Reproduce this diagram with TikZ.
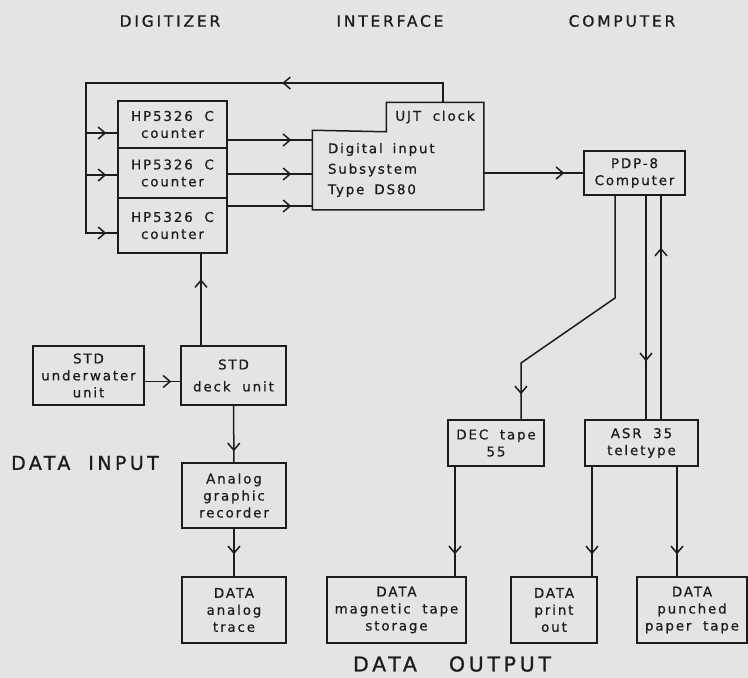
\documentclass[tikz,border=0pt]{standalone}
\usepackage{fontspec}
\setmainfont{DejaVu Sans}
\newfontfamily\letterfont[LetterSpace=14, FakeBold=0.6, WordSpace=1.9]{DejaVu Sans}
\newfontfamily\titlefont[LetterSpace=18, FakeBold=0.8, WordSpace=1.9]{DejaVu Sans}
\usetikzlibrary{arrows.meta, decorations.markings, positioning, calc}
\definecolor{paper}{RGB}{228,228,226}
\definecolor{ink}{RGB}{28,28,28}
\newcommand\boxfont[1][17]{\letterfont\fontsize{13.4}{#1}\selectfont}
\newcommand\labelfont[1][19]{\titlefont\fontsize{#1}{20}\selectfont}

\begin{document}
\begin{tikzpicture}[
    x=1pt, y=-1pt,
    >={Straight Barb[length=7pt, width=12pt]},
    line width=1.5pt, color=ink,
    box/.style={draw, rectangle, inner sep=0pt, align=center, font=\boxfont},
    title/.style={font=\titlefont\fontsize{15.5}{18}\selectfont},
    biglabel/.style={font=\labelfont},
    midarrow/.style={postaction={decorate, decoration={markings,
        mark=at position #1 with {\arrow{>}}}}}
  ]
  \path[use as bounding box, fill=paper] (0,0) rectangle (748,678);

  % column headings
  \node[title] (tdig) at (170,21) {DIGITIZER};
  \node[title] (tint) at (390,21) {INTERFACE};
  \node[title] (tcom) at (622,21) {COMPUTER};

  % counters
  \node[box, minimum width=109pt, minimum height=47pt] (c1) at (172.5,124.5) {HP5326 C\\counter};
  \node[box, minimum width=109pt, minimum height=50pt] (c2) at (172.5,173) {HP5326 C\\counter};
  \node[box, minimum width=109pt, minimum height=55pt] (c3) at (172.5,225.5) {HP5326 C\\counter};

  % interface with clock on top
  \node[inner xsep=15pt, inner ysep=0pt, text width=140pt, minimum height=78pt, align=left,
        font={\boxfont[20.5]}] (dis) at (398,170)
        {\spaceskip=10pt\relax Digital input\\Subsystem\\Type DS80};
  \node[inner sep=0pt, minimum width=96pt, minimum height=28pt, font=\boxfont] (ujt) at (435,117) {UJT clock};
  \draw (dis.north west) -- (ujt.south west) -- (ujt.north west) -- (ujt.north east)
        -- (dis.south east) -- (dis.south west) -- cycle;

  \node[box, minimum width=101pt, minimum height=44pt] (pdp) at (634.5,173) {PDP-8\\Computer};

  % data input side
  \node[box, minimum width=111pt, minimum height=59pt] (uw) at (88.5,375.5) {STD\\underwater\\unit};
  \node[box, minimum width=105pt, minimum height=59pt, font={\boxfont[22]}]
        (deck) at (233.5,375.5) {STD\\deck unit};
  \node[box, minimum width=104pt, minimum height=65pt] (analog) at (234,495.5) {Analog\\graphic\\recorder};
  \node[box, minimum width=104pt, minimum height=66pt] (trace) at (234,610) {DATA\\analog\\trace};
  \node[biglabel] (tin) at (85,463) {DATA INPUT};

  % data output side
  \node[box, minimum width=96pt, minimum height=46pt] (dec) at (496,443) {DEC tape\\55};
  \node[box, minimum width=113pt, minimum height=46pt] (asr) at (641.5,443) {ASR 35\\teletype};
  \node[box, minimum width=139pt, minimum height=66pt] (mag) at (396.5,610) {DATA\\magnetic tape\\storage};
  \node[box, minimum width=86pt, minimum height=66pt] (print) at (554,610) {DATA\\print\\out};
  \node[box, minimum width=110pt, minimum height=66pt] (punch) at (692,610) {DATA\\punched\\paper tape};
  \node[biglabel, font={\labelfont[20.5]}] (tout) at (452,664) {DATA\hspace{32pt}OUTPUT};

  % clock feedback to the counters
  \coordinate (fbR) at (443,83);
  \coordinate (fbL) at (86,83);
  \draw[midarrow=180pt, midarrow=-11pt] (ujt.north -| fbR) -- (fbR) -- (fbL) |- (c3.west |- 0,233);
  \draw[midarrow=-11pt] (fbL |- 0,133) -- (c1.west |- 0,133);
  \draw[midarrow=-11pt] (fbL |- 0,175) -- (c2.west |- 0,175);

  \draw[midarrow=-21pt] (c1.east |- 0,140) -- (dis.west |- 0,140);
  \draw[midarrow=-21pt] (c2.east |- 0,174) -- (dis.west |- 0,174);
  \draw[midarrow=-21pt] (c3.east |- 0,206) -- (dis.west |- 0,206);
  \draw[midarrow=-19pt] (dis.east |- pdp.west) -- (pdp.west);

  \draw[midarrow=-9pt] ([yshift=-6pt]uw.east) -- ([yshift=-6pt]deck.west);
  \draw[midarrow=66pt] (deck.north -| 201,0) -- (c3.south -| 201,0);
  \draw[midarrow=-11pt] (deck) -- (analog);
  \draw[midarrow=-22pt] (analog) -- (trace);

  \coordinate (k1) at (615,298);
  \coordinate (k2) at (521,363);
  \draw[midarrow=-25pt] (pdp.south -| k1) -- (k1) -- (k2) -- (dec.north -| k2);
  \draw[midarrow=-58pt] (pdp.south -| 646,0) -- (asr.north -| 646,0);
  \draw[midarrow=-52pt] (asr.north -| 661,0) -- (pdp.south -| 661,0);

  \draw[midarrow=-22pt] (dec.south -| 455,0) -- (mag.north -| 455,0);
  \draw[midarrow=-22pt] (asr.south -| 592,0) -- (print.north -| 592,0);
  \draw[midarrow=-22pt] (asr.south -| 677,0) -- (punch.north -| 677,0);
\end{tikzpicture}
\end{document}
